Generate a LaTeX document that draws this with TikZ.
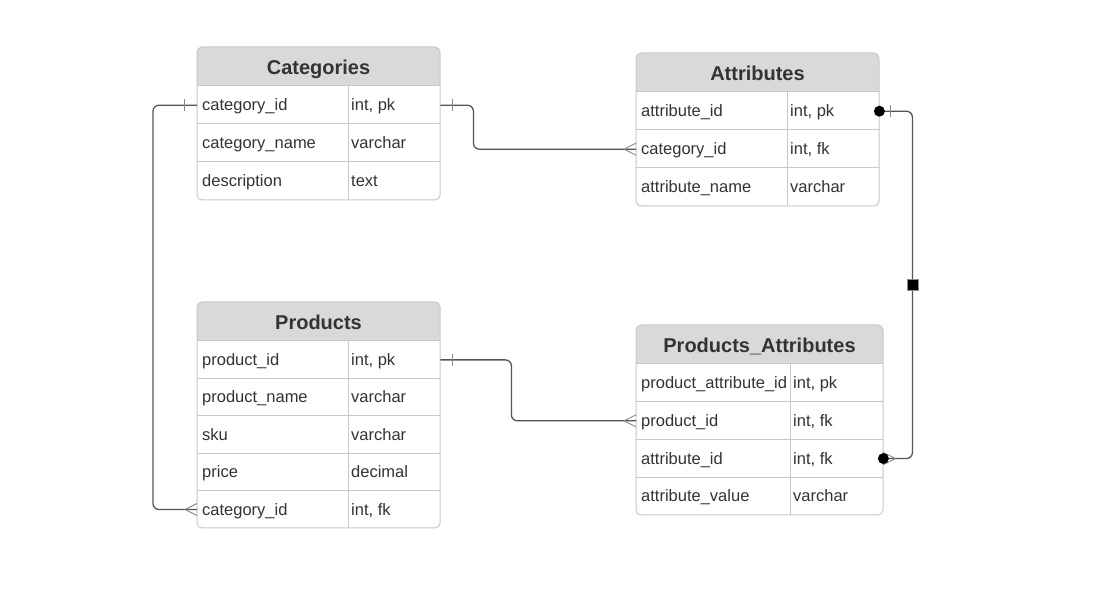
\documentclass[tikz,border=0pt]{standalone}
\usepackage{fontspec}
\setmainfont{Liberation Sans}
\usetikzlibrary{calc}
\definecolor{hdr}{HTML}{D9D9D9}
\definecolor{bord}{HTML}{C8C8C8}
\definecolor{txt}{HTML}{333333}
\definecolor{wire}{HTML}{555555}
\definecolor{markc}{HTML}{8A8A8A}
\tikzset{
  cell/.style={anchor=base west, inner sep=0pt, text=txt, font=\fontsize{16.5}{19}\selectfont},
  ttl/.style={anchor=base, inner sep=0pt, text=txt, font=\fontsize{20}{23}\selectfont\bfseries},
  rowbox/.style={anchor=north west, inner sep=0pt, draw=none},
  rule/.style={draw=bord, line width=1pt},
  wirestyle/.style={draw=wire, line width=1.3pt, rounded corners=6pt},
  mk/.style={draw=markc, line width=0.9pt},
  dotm/.style={circle, fill=black, inner sep=0pt, minimum size=11pt},
  sq/.style={rectangle, fill=black, draw=markc, line width=0.8pt, inner sep=0pt, minimum size=11pt},
}
% #1 name, #2 x1, #3 y1, #4 x2, #5 split, #6 nrows, #7 title, #8 rows, #9 row height
\newcommand\ertable[9]{%
  \pgfmathsetmacro\yb{#3+39+#6*#9}%
  \pgfmathsetmacro\yh{#3+39}%
  \begin{scope}
    \clip[rounded corners=5pt] (#2,#3) rectangle (#4,\yb);
    \fill[white] (#2,#3) rectangle (#4,\yb);
    \fill[hdr] (#2,#3) rectangle (#4,\yh);
  \end{scope}
  \node[ttl] (#1-title) at ({(#2+#4)/2},{#3+28}) {#7};
  \draw[rule] (#5,\yh) -- (#5,\yb);
  \foreach \a/\b [count=\i] in {#8} {
    \pgfmathsetmacro\yt{#3+39+(\i-1)*#9}
    \pgfmathsetmacro\yc{\yt+#9/2+5.7}
    \draw[rule] (#2,\yt) -- (#4,\yt);
    \node[rowbox, minimum width=#4-#2, minimum height=#9] (#1-\i) at (#2,\yt) {};
    \node[cell] (#1-\i-n) at (#2+5,\yc) {\a};
    \node[cell] (#1-\i-t) at (#5+3,\yc) {\b};
  }
  \draw[rule, rounded corners=5pt] (#2,#3) rectangle (#4,\yb);
}
\begin{document}
\begin{tikzpicture}[x=1pt,y=-1pt]
\useasboundingbox (0,0) rectangle (1120,601);
\fill[white] (0,0) rectangle (1120,601);

\ertable{cat}{197}{47}{440}{348}{3}{Categories}{category\_id/{int, pk}, category\_name/varchar, description/text}{38}
\ertable{att}{636}{53}{879}{787}{3}{Attributes}{attribute\_id/{int, pk}, category\_id/{int, fk}, attribute\_name/varchar}{38}
\ertable{prod}{197}{302}{440}{348}{5}{Products}{product\_id/{int, pk}, product\_name/varchar, sku/varchar, price/decimal, category\_id/{int, fk}}{37.4}
\ertable{pa}{636}{325}{883}{790}{4}{Products\_Attributes}{product\_attribute\_id/{int, pk}, product\_id/{int, fk}, attribute\_id/{int, fk}, attribute\_value/varchar}{37.75}

% Categories -> Attributes
\draw[wirestyle] (cat-1.east) -- ++(33,0) |- (att-2.west);
\draw[mk] ([xshift=12pt]cat-1.east) ++(0,-6) -- ++(0,12);
\draw[mk] ([xshift=-12pt]att-2.west) -- ++(12,-6);
\draw[mk] ([xshift=-12pt]att-2.west) -- ++(12,6);

% Categories -> Products
\draw[wirestyle] (cat-1.west) -- ++(-44,0) |- (prod-5.west);
\draw[mk] ([xshift=-13pt]cat-1.west) ++(0,-6) -- ++(0,12);
\draw[mk] ([xshift=-12pt]prod-5.west) -- ++(12,-6);
\draw[mk] ([xshift=-12pt]prod-5.west) -- ++(12,6);

% Products -> Products_Attributes
\draw[wirestyle] (prod-1.east) -- ++(71,0) |- (pa-2.west);
\draw[mk] ([xshift=12pt]prod-1.east) ++(0,-6) -- ++(0,12);
\draw[mk] ([xshift=-12pt]pa-2.west) -- ++(12,-6);
\draw[mk] ([xshift=-12pt]pa-2.west) -- ++(12,6);

% Attributes -> Products_Attributes
\path (att-1.east) ++(33,0) coordinate (c4a);
\path (c4a |- pa-3.east) coordinate (c4b);
\draw[wirestyle] (att-1.east) -- (c4a) -- (c4b) -- (pa-3.east);
\draw[mk] ([xshift=11pt]att-1.east) ++(0,-6) -- ++(0,12);
\draw[mk] ([xshift=12pt]pa-3.east) -- ++(-12,-6);
\draw[mk] ([xshift=12pt]pa-3.east) -- ++(-12,6);
\node[dotm] (d1) at (att-1.east) {};
\node[dotm] (d2) at (pa-3.east) {};
\node[sq] (mid) at ($(c4a)!0.5!(c4b)$) {};
\end{tikzpicture}
\end{document}
